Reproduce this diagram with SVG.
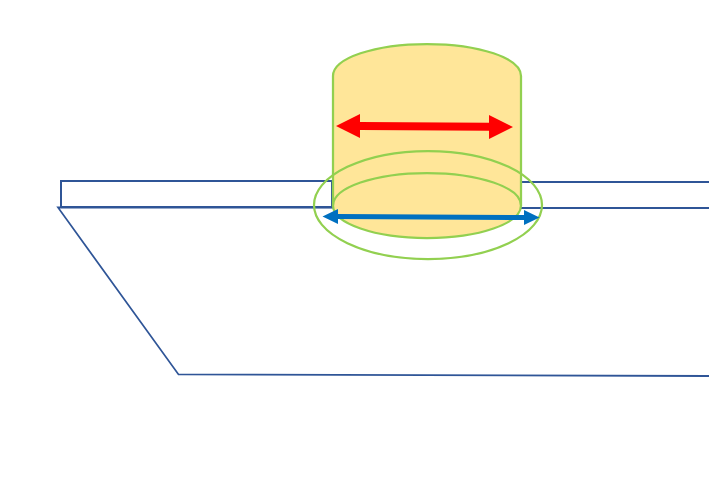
<svg xmlns="http://www.w3.org/2000/svg" width="709" height="495" viewBox="0 0 709 495">
  <style>
    .plate { fill: none; stroke: #2f5597; stroke-width: 2; }
    .thin { fill: none; stroke: #2f5597; stroke-width: 1.75; }
    .round { fill: none; stroke: #92d050; stroke-width: 2.25; }
  </style>
  <rect width="709" height="495" fill="#ffffff"/>
  <g id="slab">
    <path class="thin" d="M709 208 L58 207.500 L178.500 374.500 L709 376"/>
  </g>
  <g id="plate-left">
    <path class="plate" d="M332 181 H61 V207 H332 Z"/>
  </g>
  <g id="plate-right">
    <path class="plate" d="M521 182 H709 M521 208 H709"/>
  </g>
  <g id="cylinder">
    <path d="M333 76 C333 58 375 44 427 44 C479 44 521 58 521 76 V205.500 C521 223.500 479 238 427 238 C375 238 333 223.500 333 205.500 Z" fill="#ffe699" stroke="#92d050" stroke-width="2.25"/>
    <path class="round" d="M333 205.500 C333 187.500 375 173 427 173 C479 173 521 187.500 521 205.500"/>
  </g>
  <g id="outer-ring">
    <ellipse class="round" cx="428" cy="205" rx="114" ry="54"/>
  </g>
  <g id="connectors">
    <path id="red-arrow" d="M336 126 L360 114 V122 L489 122.800 V115 L513 127 L489 139 V130.800 L360 130 V138 Z" fill="#ff0000"/>
    <path id="blue-arrow" d="M322.500 216.500 L338 209 V214 L524 215 V210 L539.500 217.500 L524 225 V220 L338 219 V224 Z" fill="#0070c0"/>
  </g>
</svg>
